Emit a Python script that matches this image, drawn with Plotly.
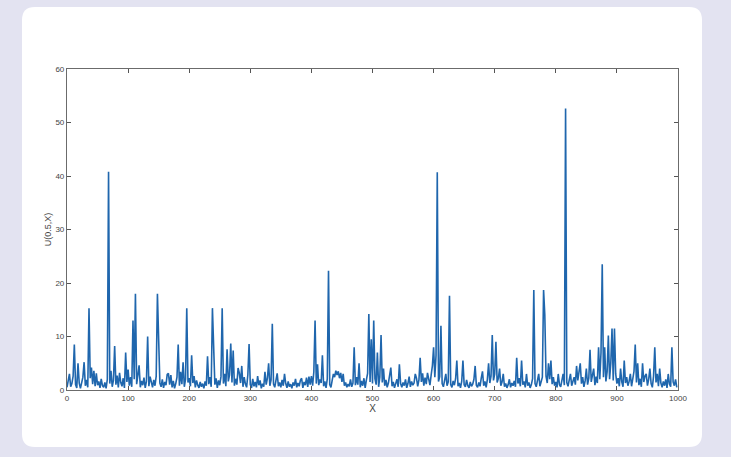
import plotly.graph_objects as go

x_values = list(range(0, 1000, 2))

u_values = [
    0.5, 1.8, 3.0, 0.6, 1.2, 2.6, 8.5, 1.0, 0.4, 5.0, 1.3, 0.3, 1.5, 2.4, 5.2, 0.8, 1.9, 0.5, 15.3, 2.2, 4.2, 1.1, 3.6, 0.7, 3.1,
    0.9, 1.6, 0.4, 2.1, 0.8, 0.5, 1.4, 0.3, 2.0, 40.8, 1.2, 3.6, 0.6, 1.8, 8.2, 1.0, 2.7, 0.5, 3.2, 1.4, 0.7, 2.2, 0.4, 7.0, 1.5,
    3.8, 0.8, 2.4, 0.6, 13.0, 2.0, 18.0, 1.1, 2.8, 4.6, 0.5, 1.7, 0.9, 2.3, 0.4, 1.6, 10.0, 0.7, 2.5, 1.2, 0.5, 1.9, 0.8, 2.6, 18.0,
    9.5, 1.3, 0.6, 2.0, 0.4, 1.5, 0.9, 2.9, 3.1, 1.0, 2.8, 0.5, 1.7, 0.3, 1.2, 2.4, 8.5, 0.8, 3.4, 1.1, 5.2, 0.6, 2.0, 15.3, 1.4,
    2.2, 0.7, 6.5, 1.3, 2.6, 0.5, 1.8, 0.9, 0.4, 1.5, 0.6, 1.2, 0.3, 1.6, 0.8, 6.3, 1.1, 2.4, 0.6, 15.3, 5.5, 1.0, 2.2, 0.4, 1.8,
    0.9, 2.5, 15.3, 1.2, 3.0, 0.7, 7.6, 1.6, 2.8, 8.7, 1.4, 7.4, 0.8, 2.1, 1.0, 4.1, 3.2, 1.3, 4.5, 0.6, 2.4, 1.1, 0.5, 2.9, 8.6,
    1.0, 0.4, 2.1, 0.7, 1.5, 0.5, 2.6, 0.9, 1.8, 0.3, 1.2, 0.6, 3.4, 1.0, 2.2, 5.0, 0.8, 1.9, 12.4, 1.1, 0.5, 2.0, 3.1, 0.7, 1.4,
    0.5, 1.9, 0.8, 3.0, 1.2, 0.4, 1.6, 0.6, 1.1, 0.3, 1.4, 0.8, 2.1, 0.5, 1.3, 0.7, 1.8, 2.2, 0.4, 1.5, 0.9, 2.3, 0.6, 2.5, 1.0,
    2.6, 0.8, 3.4, 13.0, 1.2, 4.8, 0.9, 2.0, 1.3, 6.5, 0.7, 1.6, 0.4, 2.1, 22.3, 1.0, 0.5, 1.8, 3.0, 2.4, 3.6, 2.8, 3.5, 2.2, 3.2,
    1.5, 3.0, 0.8, 1.4, 0.5, 1.1, 0.7, 2.0, 0.6, 1.3, 8.0, 0.9, 2.4, 1.0, 5.0, 0.5, 1.7, 0.8, 2.2, 0.4, 1.9, 3.1, 14.2, 1.5, 9.5,
    1.2, 13.0, 2.1, 1.0, 7.0, 0.6, 2.4, 10.3, 1.4, 4.0, 0.8, 1.9, 0.5, 1.3, 2.6, 4.2, 0.7, 1.5, 0.4, 1.1, 2.0, 0.6, 4.8, 1.2, 0.5,
    1.4, 0.8, 2.0, 0.4, 1.2, 2.5, 0.6, 1.6, 0.9, 1.3, 3.0, 2.2, 0.7, 1.9, 6.0, 1.5, 3.1, 0.8, 2.3, 1.1, 3.2, 2.0, 0.9, 2.8, 4.5,
    8.0, 2.4, 6.5, 40.7, 1.6, 2.5, 12.0, 1.2, 0.6, 2.2, 3.0, 0.8, 1.5, 17.6, 1.0, 0.5, 1.7, 0.9, 2.1, 5.5, 0.7, 1.3, 0.4, 1.6, 5.5,
    1.0, 0.6, 1.9, 0.8, 0.4, 1.5, 0.7, 1.1, 2.0, 4.5, 0.9, 0.5, 1.4, 0.7, 2.2, 3.5, 0.8, 1.6, 0.5, 2.0, 5.0, 1.3, 2.6, 10.3, 1.8,
    3.0, 9.0, 1.4, 2.2, 4.0, 0.8, 1.5, 3.0, 0.6, 1.2, 0.4, 1.0, 2.0, 0.5, 1.3, 0.8, 1.7, 0.6, 6.0, 1.2, 2.2, 0.7, 5.5, 1.0, 1.6,
    0.5, 3.0, 0.8, 1.4, 0.4, 1.0, 2.1, 18.7, 1.2, 0.6, 1.8, 3.0, 0.7, 1.5, 2.4, 18.7, 14.0, 2.6, 1.3, 5.0, 2.0, 5.5, 1.1, 2.4, 0.8,
    1.5, 0.5, 3.0, 1.0, 0.6, 1.8, 3.0, 0.9, 52.6, 1.4, 0.7, 1.9, 3.0, 0.8, 1.5, 2.4, 1.0, 4.5, 1.8, 3.2, 5.0, 1.2, 2.4, 0.6, 1.7,
    4.0, 1.0, 2.2, 7.5, 1.5, 2.8, 4.0, 0.9, 2.5, 1.3, 8.0, 2.0, 7.0, 23.5, 2.4, 8.0, 1.6, 3.4, 10.2, 2.0, 5.0, 11.5, 1.8, 11.5, 3.0,
    1.2, 2.2, 0.7, 4.0, 1.5, 0.6, 5.5, 1.3, 2.4, 0.8, 1.6, 3.0, 0.7, 1.9, 3.5, 8.5, 1.4, 5.0, 0.9, 2.1, 0.6, 5.0, 1.5, 2.6, 3.0,
    0.8, 2.0, 4.0, 1.2, 0.5, 2.6, 8.0, 1.4, 3.0, 0.7, 4.0, 1.3, 0.5, 1.6, 0.8, 2.0, 0.4, 3.0, 1.1, 0.6, 8.0, 1.5, 0.8, 2.0, 0.5,
]

x_ticks = [0, 100, 200, 300, 400, 500, 600, 700, 800, 900, 1000]
y_ticks = [0, 10, 20, 30, 40, 50, 60]

fig = go.Figure()
fig.add_trace(go.Scatter(
    x=x_values, y=u_values, mode="lines",
    line=dict(color="#1f66ad", width=1.6),
    showlegend=False, hoverinfo="skip",
))

W, H = 731, 457
ML, MR, MT, MB = 67, 53, 69, 67
PW, PH = W - ML - MR, H - MT - MB


def px_x(p):
    return (p - ML) / PW


def px_y(p):
    return (H - MB - p) / PH


# white rounded card (paper coordinates are relative to the plot area)
x0, x1 = px_x(22), px_x(702)
y0, y1 = px_y(447), px_y(7)
rx, ry = 13 / PW, 13 / PH
card = (f"M {x0+rx},{y1} L {x1-rx},{y1} Q {x1},{y1} {x1},{y1-ry} "
        f"L {x1},{y0+ry} Q {x1},{y0} {x1-rx},{y0} L {x0+rx},{y0} "
        f"Q {x0},{y0} {x0},{y0+ry} L {x0},{y1-ry} Q {x0},{y1} {x0+rx},{y1} Z")
fig.add_shape(type="path", path=card, xref="paper", yref="paper",
              fillcolor="white", line=dict(width=0), layer="below")

font_family = "Liberation Sans, Arial, sans-serif"
axis_common = dict(
    showline=True, linecolor="#6b6b6b", linewidth=1.2, mirror="ticks",
    ticks="inside", ticklen=4, tickcolor="#555555", tickwidth=1,
    showgrid=False, zeroline=False,
    tickfont=dict(family=font_family, size=8, color="#444444"),
)

fig.update_layout(
    width=W, height=H,
    margin=dict(l=ML, r=MR, t=MT, b=MB),
    paper_bgcolor="#e3e3f1",
    plot_bgcolor="rgba(0,0,0,0)",
    xaxis=dict(range=[0, 1000], tickvals=x_ticks, **axis_common,
               title=dict(text="X", standoff=2,
                          font=dict(family=font_family, size=10, color="#444444"))),
    yaxis=dict(range=[0, 60], tickvals=y_ticks, **axis_common,
               title=dict(text="U(0.5,X)", standoff=2,
                          font=dict(family=font_family, size=9, color="#444444"))),
)

fig.write_html("out.html")
